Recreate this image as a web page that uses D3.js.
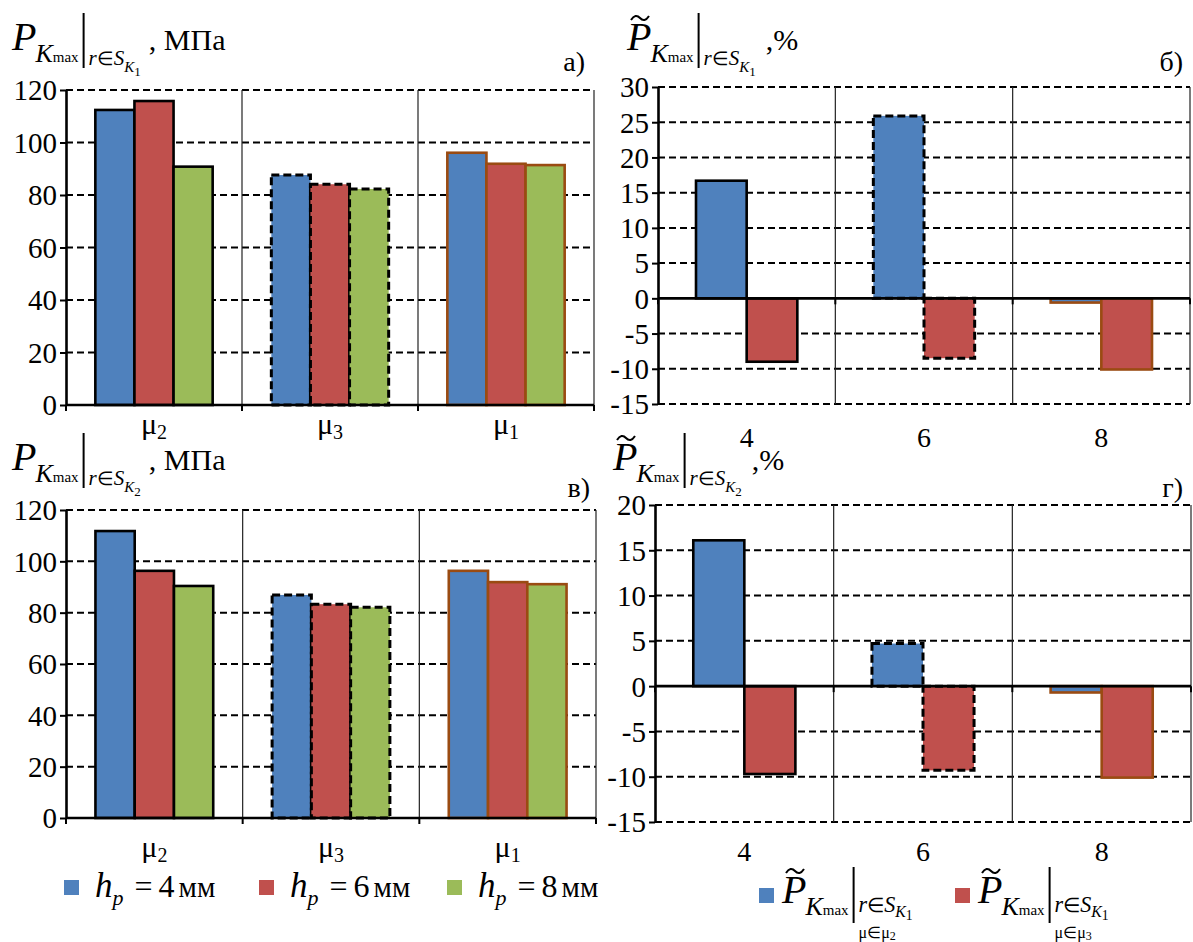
<!DOCTYPE html>
<html>
<head>
<meta charset="utf-8">
<script src="https://cdn.jsdelivr.net/npm/d3@7"></script>
<style>
  body { margin: 0; background: #fff; }
  svg { display: block; }
  text { font-family: "Liberation Serif", "Times New Roman", serif; fill: #000; }
</style>
</head>
<body>
<svg id="chart" width="1193" height="942" font-family="Liberation Serif, serif"></svg>
<script>
// ---- data ----
// contact-zone pressure P_Kmax, MPa, grouped by friction coefficient
const muLabels = ["μ2", "μ3", "μ1"];
const thicknessMm = ["4", "6", "8"];
const pK1_h4 = [112.4, 87.6, 96.1];
const pK1_h6 = [115.8, 84.1, 91.9];
const pK1_h8 = [90.8, 82.3, 91.4];
const pK2_h4 = [111.8, 86.9, 96.3];
const pK2_h6 = [96.3, 83.3, 91.9];
const pK2_h8 = [90.4, 82.1, 91.1];
const pressureTicks = [0, 20, 40, 60, 80, 100, 120];

// relative change, %, grouped by layer thickness h_p
const hLabels = ["4", "6", "8"];
const muCompared = ["2", "3"];
const dK1_mu2 = [16.7, 25.9, -0.6];
const dK1_mu3 = [-9.0, -8.5, -10.1];
const dK2_mu2 = [16.1, 4.7, -0.7];
const dK2_mu3 = [-9.7, -9.3, -10.1];
const changeTicksK1 = [-15, -10, -5, 0, 5, 10, 15, 20, 25, 30];
const changeTicksK2 = [-15, -10, -5, 0, 5, 10, 15, 20];

// ---- styles ----
const fills = ["#4F81BD", "#C0504D", "#9BBB59"];
const brown = "#9A4B12";
// outline style per category group: solid black, dashed black, solid brown
const outlines = [
  { stroke: "#000", dash: null },
  { stroke: "#000", dash: "8,4" },
  { stroke: brown, dash: null }
];

const svg = d3.select("#chart");

function drawPanel(cfg) {
  const g = svg.append("g");
  const y = d3.scaleLinear().domain(cfg.domain).range([cfg.bottom, cfg.top]);
  const x0 = d3.scaleBand().domain(cfg.cats).range([cfg.left, cfg.right]).padding(0);
  const x1 = d3.scaleBand().domain(d3.range(cfg.series.length))
    .range([0, x0.bandwidth()]).paddingInner(0).paddingOuter(0.75);
  const bw = x0.bandwidth();

  // dashed horizontal gridlines
  g.append("g").selectAll("line")
    .data(cfg.ticks.filter(t => t !== 0))
    .join("line")
    .attr("x1", cfg.left).attr("x2", cfg.right)
    .attr("y1", d => y(d)).attr("y2", d => y(d))
    .attr("stroke", "#000").attr("stroke-width", 2)
    .attr("stroke-dasharray", "7,4");

  // vertical separators between groups
  g.append("g").selectAll("line")
    .data(cfg.cats)
    .join("line")
    .attr("x1", d => x0(d) + bw).attr("x2", d => x0(d) + bw)
    .attr("y1", cfg.top).attr("y2", cfg.bottom)
    .attr("stroke", "#222").attr("stroke-width", 1.2);

  // bars
  cfg.cats.forEach((cat, ci) => {
    const o = outlines[ci];
    cfg.series.forEach((vals, si) => {
      const v = vals[ci];
      g.append("rect")
        .attr("x", x0(cat) + x1(si))
        .attr("y", y(Math.max(0, v)))
        .attr("width", x1.bandwidth())
        .attr("height", Math.abs(y(v) - y(0)))
        .attr("fill", cfg.fills[si])
        .attr("stroke", o.stroke)
        .attr("stroke-width", o.dash ? 3 : 2.6)
        .attr("stroke-dasharray", o.dash);
    });
  });

  // horizontal axis at zero with ticks on group boundaries
  const zy = y(0);
  g.append("line").attr("x1", cfg.left).attr("x2", cfg.right)
    .attr("y1", zy).attr("y2", zy)
    .attr("stroke", "#000").attr("stroke-width", 2.6);
  g.append("g").selectAll("line")
    .data([cfg.left].concat(cfg.cats.map(c => x0(c) + bw)))
    .join("line")
    .attr("x1", d => d).attr("x2", d => d)
    .attr("y1", zy).attr("y2", zy + 6)
    .attr("stroke", "#000").attr("stroke-width", 2);

  // vertical value axis
  const ax = g.append("g")
    .attr("transform", `translate(${cfg.left},0)`)
    .call(d3.axisLeft(y).tickValues(cfg.ticks).tickSize(6).tickSizeOuter(0)
      .tickPadding(3).tickFormat(d => String(d)));
  ax.attr("font-family", null);
  ax.select(".domain").attr("stroke", "#000").attr("stroke-width", 2.6);
  ax.selectAll(".tick line").attr("stroke", "#000").attr("stroke-width", 2);
  ax.selectAll(".tick text")
    .attr("font-size", 29).attr("fill", "#000").attr("dy", "0.34em");

  // category labels
  cfg.cats.forEach(cat => {
    const t = g.append("text")
      .attr("x", x0(cat) + bw / 2)
      .attr("y", cfg.labelY)
      .attr("text-anchor", "middle");
    if (cfg.muLabels) {
      t.append("tspan").attr("font-size", 30).text(cat[0]);
      t.append("tspan").attr("font-size", 20).attr("dy", 5).text(cat.slice(1));
    } else {
      t.attr("font-size", 28).text(cat);
    }
  });
}

drawPanel({
  cats: muLabels, series: [pK1_h4, pK1_h6, pK1_h8], fills: fills,
  domain: [0, 120], ticks: pressureTicks,
  left: 66, right: 594, top: 90, bottom: 405, labelY: 434, muLabels: true
});
drawPanel({
  cats: muLabels, series: [pK2_h4, pK2_h6, pK2_h8], fills: fills,
  domain: [0, 120], ticks: pressureTicks,
  left: 66, right: 596, top: 510, bottom: 818, labelY: 857, muLabels: true
});
drawPanel({
  cats: hLabels, series: [dK1_mu2, dK1_mu3], fills: fills,
  domain: [-15, 30], ticks: changeTicksK1,
  left: 658, right: 1190, top: 87, bottom: 404, labelY: 447, muLabels: false
});
drawPanel({
  cats: hLabels, series: [dK2_mu2, dK2_mu3], fills: fills,
  domain: [-15, 20], ticks: changeTicksK2,
  left: 655, right: 1191, top: 505, bottom: 822, labelY: 861, muLabels: false
});

// ---- formula-style labels ----
// lays out text pieces left to right; returns end x and the x of any vertical bar
function chain(x, base, parts) {
  let cx = x, barX = null;
  parts.forEach(p => {
    cx += p.gap || 0;
    if (p.bar) {
      svg.append("line").attr("x1", cx).attr("x2", cx)
        .attr("y1", base + p.y1).attr("y2", base + p.y2)
        .attr("stroke", "#000").attr("stroke-width", 2);
      barX = cx;
      return;
    }
    const t = svg.append("text").attr("x", cx).attr("y", base + (p.dy || 0))
      .attr("font-size", p.size)
      .attr("font-style", p.italic ? "italic" : "normal")
      .text(p.t);
    if (p.tilde) {
      svg.append("path")
        .attr("d", `M${cx + 4},${base - 30} Q${cx + 8.5},${base - 37} ${cx + 13},${base - 32} T${cx + 22},${base - 34}`)
        .attr("fill", "none").attr("stroke", "#000").attr("stroke-width", 2);
    }
    cx += t.node().getComputedTextLength();
  });
  return { end: cx, barX: barX };
}

function pressureSymbol(x, base, opts) {
  const s = opts.sub || 1;
  const kDy = opts.kDy == null ? 7 : opts.kDy;
  const zDy = opts.zDy == null ? 11 : opts.zDy;
  return chain(x, base, [
    { t: "P", size: 40, italic: true, tilde: opts.tilde },
    { t: "K", size: 26, italic: true, dy: 12, gap: -1 },
    { t: "max", size: 15, dy: 12 },
    { bar: true, y1: opts.barTop || -37, y2: opts.barBottom || 18, gap: 5 },
    { t: "r", size: 21 * s, italic: true, dy: opts.rDy, gap: 5 },
    { t: "∈", size: 19 * s, dy: opts.rDy },
    { t: "S", size: 21 * s, italic: true, dy: opts.rDy },
    { t: "K", size: 15 * s, italic: true, dy: opts.rDy + kDy },
    { t: opts.zone, size: 13 * s, dy: opts.rDy + zDy }
  ]);
}

function panelTitle(x, base, tilde, zone, unit, unitGap) {
  const r = pressureSymbol(x, base, { tilde: tilde, zone: zone, rDy: 15 });
  svg.append("text").attr("x", r.end + unitGap).attr("y", base)
    .attr("font-size", 30).text(unit);
}

panelTitle(12, 50, false, "1", ", МПа", 8);
panelTitle(627, 50, true, "1", ",%", 10);
panelTitle(12, 470, false, "2", ", МПа", 8);
panelTitle(613, 470, true, "2", ",%", 10);

// panel letters
[["а)", 585, 71], ["б)", 1183, 71], ["в)", 590, 497], ["г)", 1183, 497]].forEach(([t, x, yb]) => {
  svg.append("text").attr("x", x).attr("y", yb).attr("text-anchor", "end")
    .attr("font-size", 28).text(t);
});

// legend for pressure panels
const legendLeftX = [64, 259, 447];
thicknessMm.forEach((h, i) => {
  const lx = legendLeftX[i];
  svg.append("rect").attr("x", lx).attr("y", 880).attr("width", 15).attr("height", 15)
    .attr("fill", fills[i]);
  chain(lx + 31, 897, [
    { t: "h", size: 35, italic: true },
    { t: "p", size: 22, italic: true, dy: 8 },
    { t: "=", size: 32, gap: 11 },
    { t: h, size: 32, gap: 6 },
    { t: "мм", size: 29, gap: 4 }
  ]);
});

// legend for relative-change panels
const legendRightX = [759, 955];
muCompared.forEach((m, i) => {
  const lx = legendRightX[i];
  svg.append("rect").attr("x", lx).attr("y", 888).attr("width", 15).attr("height", 15)
    .attr("fill", fills[i]);
  const r = pressureSymbol(lx + 23, 903, {
    tilde: true, zone: "1", rDy: 9, kDy: 5, zDy: 8, sub: 1.05, barTop: -36, barBottom: 20
  });
  // friction-coefficient condition under the zone subscript
  const t = svg.append("text").attr("x", r.barX + 5).attr("y", 938);
  t.append("tspan").attr("font-size", 16).text("μ∈μ");
  t.append("tspan").attr("font-size", 12).attr("dy", 2).text(m);
});
</script>
</body>
</html>
